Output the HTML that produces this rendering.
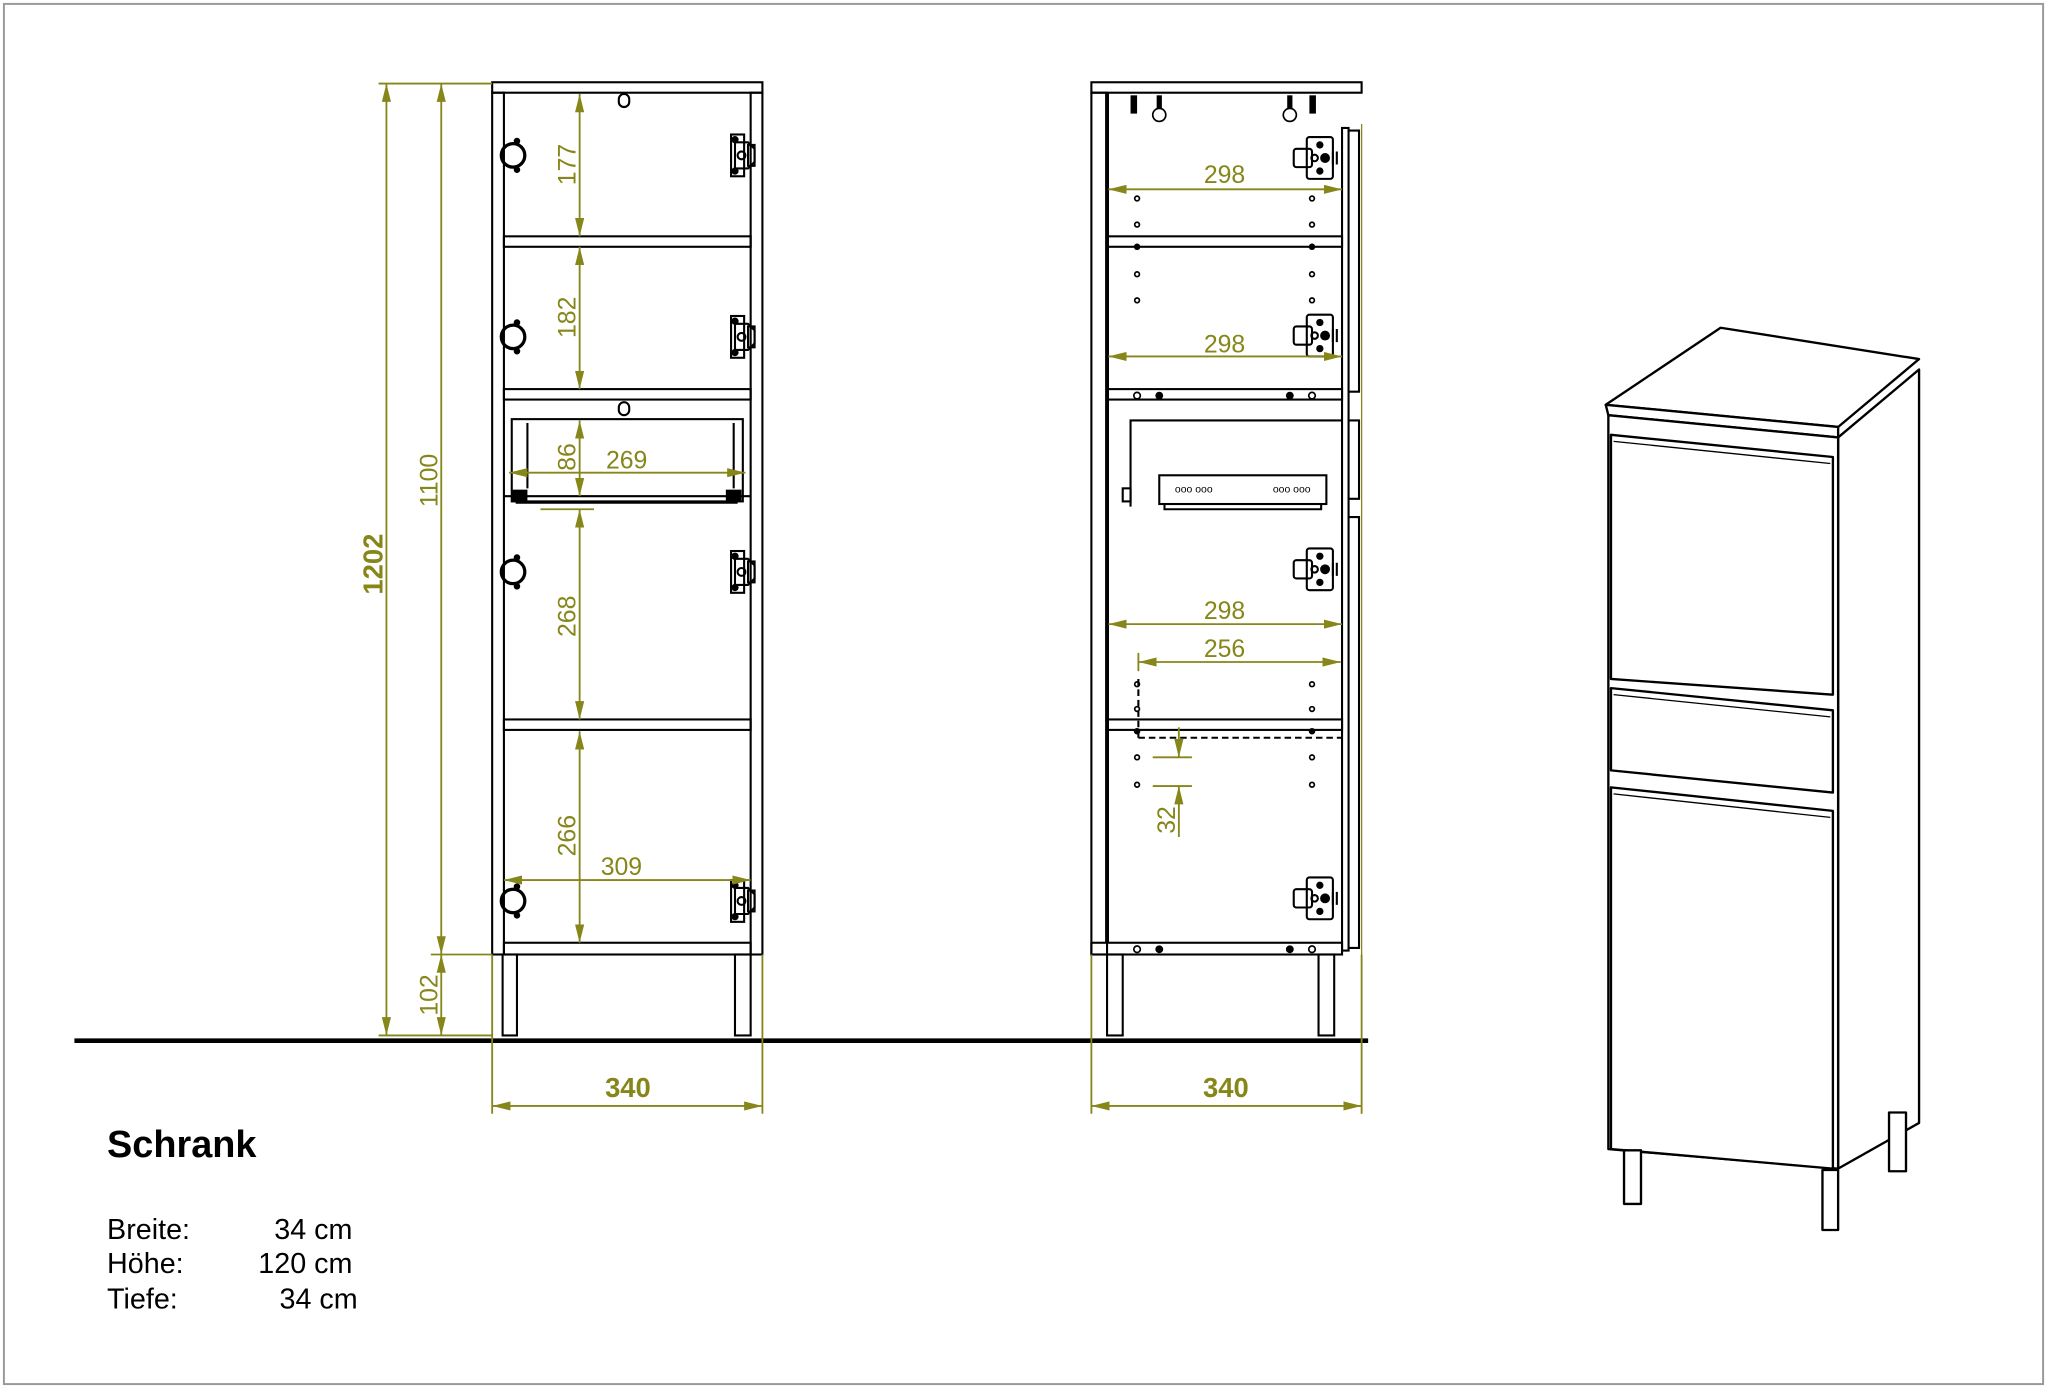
<!DOCTYPE html>
<html><head><meta charset="utf-8"><style>
html,body{margin:0;padding:0;background:#fff;}
svg{display:block;}
text{font-family:"Liberation Sans",Arial,sans-serif;}
</style></head><body>
<svg width="2047" height="1388" viewBox="0 0 1568 1063" preserveAspectRatio="none" xmlns="http://www.w3.org/2000/svg">
<defs>
<marker id="a" viewBox="0 0 14 7" refX="14" refY="3.5" markerWidth="14" markerHeight="7" orient="auto-start-reverse" markerUnits="userSpaceOnUse"><path d="M0,0 L14,3.5 L0,7 z" fill="#86861a"/></marker>
<g id="knob"><circle cx="0" cy="0" r="9" fill="none" stroke="#000" stroke-width="2.5"/><circle cx="3" cy="-11" r="2.5" fill="#000"/><circle cx="3" cy="11" r="2.5" fill="#000"/></g>
<g id="hinge" fill="none" stroke="#000" stroke-width="1.6"><rect x="-9" y="-16" width="10" height="32"/><path d="M-6,-10 h10 l5,5 v10 l-5,5 h-10 z"/><circle cx="-1" cy="0" r="3"/><circle cx="-6" cy="-12" r="2" fill="#000"/><circle cx="-6" cy="12" r="2" fill="#000"/><rect x="4" y="-8" width="5" height="16"/></g>
<g id="hs" fill="none" stroke="#000" stroke-width="1.6"><rect x="-4" y="-16" width="20" height="32" rx="2"/><rect x="-14" y="-7" width="14" height="14" rx="2"/><circle cx="2" cy="0" r="2.5"/><circle cx="6" cy="-10" r="2" fill="#000"/><circle cx="6" cy="10" r="2" fill="#000"/><circle cx="10" cy="0" r="3" fill="#000"/><path d="M16,-5 v10 M19,-5 v10"/></g>
</defs>
<rect x="3" y="3" width="1562" height="1057" fill="none" stroke="#999" stroke-width="1.5"/>
<line x1="57" y1="797" x2="1048" y2="797" stroke="#000" stroke-width="3.5"/>

<!-- LEFT CABINET -->
<g fill="none" stroke="#000" stroke-width="1.6">
<rect x="377" y="63" width="207" height="8"/>
<rect x="377" y="71" width="9" height="660"/>
<rect x="575" y="71" width="9" height="660"/>
<rect x="386" y="181" width="189" height="8"/>
<rect x="386" y="298" width="189" height="8"/>
<rect x="386" y="551" width="189" height="8"/>
<rect x="386" y="722" width="189" height="9"/>
<rect x="385" y="731" width="11" height="62"/>
<rect x="563" y="731" width="12" height="62"/>
<rect x="392" y="321" width="177" height="63"/>
<path d="M404,324 v50 M562,324 v50"/>
<path d="M386,380 h189 M395,385 h170"/>
<rect x="474" y="72" width="8" height="10" rx="4"/>
<rect x="474" y="308" width="8" height="10" rx="4"/>
</g>
<g fill="#000"><rect x="392" y="375" width="12" height="9"/><rect x="556" y="375" width="12" height="9"/></g>
<use href="#knob" x="393" y="119"/><use href="#knob" x="393" y="258"/><use href="#knob" x="393" y="438"/><use href="#knob" x="393" y="690"/>
<use href="#hinge" x="569" y="119"/><use href="#hinge" x="569" y="258"/><use href="#hinge" x="569" y="438"/><use href="#hinge" x="569" y="690"/>

<!-- RIGHT CABINET -->
<g fill="none" stroke="#000" stroke-width="1.6">
<rect x="836" y="63" width="207" height="8"/>
<rect x="836" y="71" width="12" height="660"/>
<line x1="848" y1="71" x2="848" y2="722" stroke-width="3"/>
<rect x="1028" y="98" width="5" height="630"/>
<path d="M1033,100 h8 v200 h-8 M1033,322 h8 v60 h-8 M1033,396 h8 v330 h-8"/>
<rect x="848" y="181" width="180" height="8"/>
<rect x="848" y="298" width="180" height="8"/>
<rect x="848" y="551" width="180" height="8"/>
<rect x="836" y="722" width="192" height="9"/>
<rect x="848" y="731" width="12" height="62"/>
<rect x="1010" y="731" width="12" height="62"/>
<path d="M866,388 V322 H1028"/>
<rect x="888" y="364" width="128" height="22"/>
<path d="M892,386 v4 h120 v-4"/>
<rect x="860" y="374" width="6" height="10"/>
<path d="M872,565 H1028" stroke-dasharray="5,3"/>
<path d="M872,520 V565" stroke-dasharray="5,3"/>
</g>
<g fill="none" stroke="#000" stroke-width="1.3">
<circle cx="871" cy="152" r="1.8"/><circle cx="1005" cy="152" r="1.8"/><circle cx="871" cy="172" r="1.8"/><circle cx="1005" cy="172" r="1.8"/>
<circle cx="871" cy="210" r="1.8"/><circle cx="1005" cy="210" r="1.8"/><circle cx="871" cy="230" r="1.8"/><circle cx="1005" cy="230" r="1.8"/>
<circle cx="871" cy="303" r="2.5"/><circle cx="1005" cy="303" r="2.5"/>
<circle cx="871" cy="524" r="1.8"/><circle cx="1005" cy="524" r="1.8"/><circle cx="871" cy="543" r="1.8"/><circle cx="1005" cy="543" r="1.8"/>
<circle cx="871" cy="580" r="1.8"/><circle cx="1005" cy="580" r="1.8"/><circle cx="871" cy="601" r="1.8"/><circle cx="1005" cy="601" r="1.8"/>
<circle cx="871" cy="727" r="2.5"/><circle cx="1005" cy="727" r="2.5"/>
<circle cx="888" cy="88" r="5"/><circle cx="988" cy="88" r="5"/>
</g>
<g fill="#000"><circle cx="888" cy="303" r="3"/><circle cx="988" cy="303" r="3"/><circle cx="888" cy="727" r="3"/><circle cx="988" cy="727" r="3"/><circle cx="871" cy="189" r="2.5"/><circle cx="1005" cy="189" r="2.5"/><circle cx="871" cy="560" r="2.5"/><circle cx="1005" cy="560" r="2.5"/>
<rect x="866" y="73" width="5" height="14"/><rect x="886" y="73" width="4" height="10"/><rect x="986" y="73" width="4" height="10"/><rect x="1003" y="73" width="5" height="14"/></g>
<g><text x="900" y="377" font-size="8" fill="#000">ooo ooo</text><text x="975" y="377" font-size="8" fill="#000">ooo ooo</text></g>
<use href="#hs" x="1005" y="121"/><use href="#hs" x="1005" y="257"/><use href="#hs" x="1005" y="436"/><use href="#hs" x="1005" y="688"/>

<!-- DIMENSIONS -->
<g stroke="#86861a" stroke-width="1.4" fill="none">
<path d="M290,64 H377 M290,793 H377 M330,731 H377 M377,731 V853 M584,731 V853 M836,731 V853 M1043,731 V853"/>
<path d="M1043,95 V731" stroke-width="1"/>
<line x1="296" y1="64" x2="296" y2="793" marker-start="url(#a)" marker-end="url(#a)"/>
<line x1="338" y1="64" x2="338" y2="731" marker-start="url(#a)" marker-end="url(#a)"/>
<line x1="338" y1="731" x2="338" y2="793" marker-start="url(#a)" marker-end="url(#a)"/>
<line x1="444" y1="72" x2="444" y2="181" marker-start="url(#a)" marker-end="url(#a)"/>
<line x1="444" y1="189" x2="444" y2="298" marker-start="url(#a)" marker-end="url(#a)"/>
<line x1="444" y1="322" x2="444" y2="380" marker-start="url(#a)" marker-end="url(#a)"/>
<line x1="390" y1="362" x2="571" y2="362" marker-start="url(#a)" marker-end="url(#a)"/>
<path d="M414,390 H455"/>
<line x1="444" y1="390" x2="444" y2="551" marker-start="url(#a)" marker-end="url(#a)"/>
<line x1="444" y1="560" x2="444" y2="722" marker-start="url(#a)" marker-end="url(#a)"/>
<line x1="386" y1="674" x2="575" y2="674" marker-start="url(#a)" marker-end="url(#a)"/>
<line x1="377" y1="847" x2="584" y2="847" marker-start="url(#a)" marker-end="url(#a)"/>
<line x1="836" y1="847" x2="1043" y2="847" marker-start="url(#a)" marker-end="url(#a)"/>
<line x1="849" y1="145" x2="1028" y2="145" marker-start="url(#a)" marker-end="url(#a)"/>
<line x1="849" y1="273" x2="1028" y2="273" marker-start="url(#a)" marker-end="url(#a)"/>
<line x1="849" y1="478" x2="1028" y2="478" marker-start="url(#a)" marker-end="url(#a)"/>
<line x1="872" y1="507" x2="1027" y2="507" marker-start="url(#a)" marker-end="url(#a)"/>
<path d="M872,500 V514 M883,580 H913 M883,602 H913"/>
<line x1="903" y1="557" x2="903" y2="580" marker-end="url(#a)"/>
<line x1="903" y1="641" x2="903" y2="602" marker-end="url(#a)"/>
</g>
<g fill="#86861a" font-size="19">
<text font-size="21" font-weight="bold" transform="translate(293,432) rotate(-90)" text-anchor="middle">1202</text>
<text transform="translate(335,368) rotate(-90)" text-anchor="middle">1100</text>
<text transform="translate(335,762) rotate(-90)" text-anchor="middle">102</text>
<text transform="translate(441,126) rotate(-90)" text-anchor="middle">177</text>
<text transform="translate(441,243) rotate(-90)" text-anchor="middle">182</text>
<text transform="translate(441,350) rotate(-90)" text-anchor="middle">86</text>
<text x="480" y="359" text-anchor="middle">269</text>
<text transform="translate(441,472) rotate(-90)" text-anchor="middle">268</text>
<text transform="translate(441,640) rotate(-90)" text-anchor="middle">266</text>
<text x="476" y="670" text-anchor="middle">309</text>
<text x="481" y="840" text-anchor="middle" font-weight="bold" font-size="21">340</text>
<text x="939" y="840" text-anchor="middle" font-weight="bold" font-size="21">340</text>
<text x="938" y="140" text-anchor="middle">298</text>
<text x="938" y="270" text-anchor="middle">298</text>
<text x="938" y="474" text-anchor="middle">298</text>
<text x="938" y="503" text-anchor="middle">256</text>
<text transform="translate(900,628) rotate(-90)" text-anchor="middle">32</text>
</g>

<!-- PERSPECTIVE -->
<g fill="#fff" stroke="#000" stroke-width="1.8" stroke-linejoin="round">
<polygon points="1408,335 1470,283 1470,860 1408,895"/>
<polygon points="1230,310 1318,251 1470,275 1408,327"/>
<polygon points="1230,310 1408,327 1408,335 1232,318"/>
<polygon points="1232,318 1408,335 1408,895 1232,880"/>
<polygon points="1234,333 1404,350 1404,532 1234,520"/>
<polygon points="1234,527 1404,544 1404,607 1234,590"/>
<polygon points="1234,603 1404,621 1404,895 1234,880"/>
<path d="M1236,338 L1402,355 M1236,532 L1402,549 M1236,608 L1402,626" fill="none" stroke-width="1"/>
<rect x="1244" y="881" width="13" height="41"/>
<rect x="1396" y="896" width="12" height="46"/>
<rect x="1447" y="852" width="13" height="45"/>
</g>

<!-- TEXT -->
<g fill="#000">
<text x="82" y="886" font-size="29" font-weight="bold">Schrank</text>
<text x="82" y="949" font-size="22">Breite:</text><text x="270" y="949" font-size="22" text-anchor="end">34 cm</text>
<text x="82" y="975" font-size="22">Höhe:</text><text x="270" y="975" font-size="22" text-anchor="end">120 cm</text>
<text x="82" y="1002" font-size="22">Tiefe:</text><text x="274" y="1002" font-size="22" text-anchor="end">34 cm</text>
</g>
</svg>
</body></html>
